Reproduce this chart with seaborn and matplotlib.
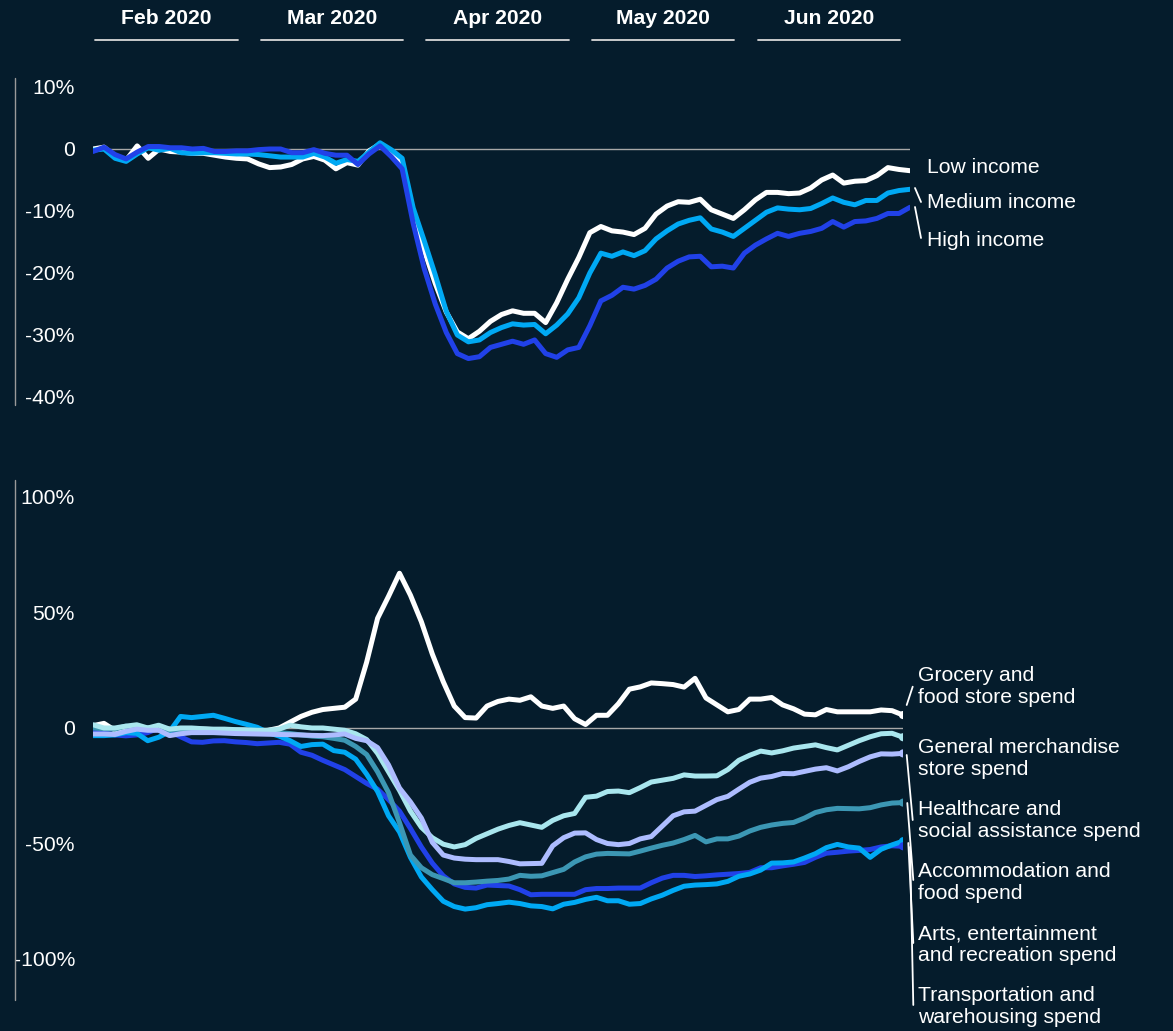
import matplotlib
matplotlib.use("Agg")
import matplotlib.pyplot as plt
import matplotlib.transforms as mtransforms
from matplotlib.lines import Line2D
import numpy as np
import pandas as pd
import seaborn as sns

# ---------------- data ----------------
days = list(range(0, 149, 2))  # day index, 75 samples

low_income = [0, 0.3, -1.2, -1.8, 0.5, -1.5, 0, -0.4, -0.5, -0.7,
              -0.7, -1.0, -1.3, -1.5, -1.6, -2.4, -3.0, -2.9, -2.5, -1.6,
              -1.2, -1.8, -3.2, -2.2, -2.6, -0.3, 0.8, -0.7, -2.5, -10.5,
              -16.3, -21.7, -26.3, -29.5, -30.6, -29.4, -27.8, -26.7, -26.1, -26.5,
              -26.5, -28.0, -24.8, -21.0, -17.5, -13.5, -12.5, -13.2, -13.4, -13.8,
              -12.8, -10.5, -9.2, -8.5, -8.6, -8.1, -9.8, -10.5, -11.2, -9.8,
              -8.2, -7.0, -7.0, -7.2, -7.1, -6.3, -5.0, -4.2, -5.5, -5.2,
              -5.1, -4.3, -3.0, -3.3, -3.5]
medium_income = [-0.2, 0, -1.5, -2.0, -0.8, 0.2, -0.2, 0.1, -0.6, -0.7,
                 -0.6, -0.6, -0.7, -0.8, -0.8, -0.9, -1.1, -1.3, -1.3, -1.3,
                 -0.7, -1.3, -2.3, -1.7, -2.0, -0.5, 1.0, -0.1, -1.5, -9.5,
                 -14.8, -20.3, -26.2, -30.0, -31.1, -30.8, -29.6, -28.8, -28.2, -28.4,
                 -28.3, -29.8, -28.4, -26.6, -24.0, -20.0, -16.8, -17.3, -16.6, -17.2,
                 -16.4, -14.5, -13.2, -12.1, -11.5, -11.1, -12.9, -13.4, -14.1, -12.8,
                 -11.5, -10.2, -9.5, -9.7, -9.8, -9.6, -8.8, -7.9, -8.6, -9.0,
                 -8.3, -8.3, -7.1, -6.7, -6.5]
high_income = [-0.4, 0.3, -0.9, -1.6, -0.5, 0.4, 0.4, 0.2, 0.2, 0,
               0.1, -0.4, -0.4, -0.3, -0.3, -0.1, 0, 0, -0.6, -0.6,
               -0.1, -0.7, -1.0, -1.0, -2.5, -0.8, 0.5, -1.2, -3.2, -12.0,
               -19.3, -25.0, -29.6, -33.0, -33.8, -33.5, -32.0, -31.5, -31.0, -31.5,
               -30.8, -33.0, -33.6, -32.4, -32.0, -28.5, -24.5, -23.6, -22.3, -22.6,
               -22.0, -21.0, -19.2, -18.1, -17.4, -17.3, -19.0, -18.9, -19.2, -16.8,
               -15.5, -14.5, -13.6, -14.1, -13.6, -13.3, -12.8, -11.7, -12.6, -11.7,
               -11.6, -11.2, -10.4, -10.4, -9.4]

grocery = [1, 2, -1, 0, 0, 0, -0.5, -0.5, -0.5, -0.5,
           -0.5, -0.7, -0.8, -1, -1, -1.5, -1, 0, 2.5, 5,
           6.8, 8, 8.5, 9, 12.5, 28.5, 47.5, 57, 67, 57.5,
           46, 32, 20, 9.5, 4.5, 4.3, 9.5, 11.5, 12.5, 12,
           13.5, 9.5, 8.5, 9.5, 4, 1.5, 5.5, 5.5, 10.5, 16.8,
           17.8, 19.5, 19.2, 18.8, 17.7, 21.5, 13, 10, 7, 8,
           12.5, 12.5, 13.2, 10, 8.3, 6, 5.7, 8, 7, 7,
           7, 7, 7.8, 7.5, 5.6]
gen_merch = [1.4, 0, 0, 0.8, 1.4, 0, 1.2, -0.5, 0, 0,
             -0.3, -0.5, -0.5, -0.7, -0.8, -1, -1, -0.5, 1.2, 0.5,
             0, 0, -0.5, -1, -2.5, -5, -11, -19, -27, -36,
             -43, -47.5, -50.3, -51.5, -50.5, -47.8, -45.8, -43.8, -42.2, -41,
             -42, -43, -40, -38, -37, -30, -29.5, -27.5, -27.3, -28,
             -25.8, -23.4, -22.6, -21.8, -20.3, -20.8, -20.8, -20.7, -18, -14,
             -11.8, -10, -10.8, -9.9, -8.7, -8, -7.3, -8.5, -9.5, -7.5,
             -5.5, -3.8, -2.5, -2.3, -4]
healthcare = [-2.6, -2.6, -2.8, -1.5, -0.5, -1, -1, -3.3, -2.5, -2,
              -2, -2, -2.2, -2.4, -2.5, -2.6, -2.7, -2.8, -2.9, -3,
              -3.2, -3.3, -3, -2.6, -4.5, -5.5, -8.5, -16, -26, -32,
              -39, -49.5, -55, -56.3, -56.8, -57, -57, -57, -57.8, -58.8,
              -58.7, -58.6, -51, -47.5, -45.5, -45.4, -48.3, -50, -50.5, -50,
              -48, -47, -42.5, -38, -36.3, -36, -33.5, -31, -29.6, -26.5,
              -23.5, -21.7, -21, -19.7, -19.8, -18.8, -17.8, -17.2, -18.6, -16.8,
              -14.5, -12.5, -11.2, -11.3, -11]
accommodation = [0, -0.3, -0.5, 0.8, 0, 0, 0.5, -1, -0.5, -0.5,
                 -0.8, -0.8, -0.8, -0.8, -1, -1, -1.5, -2, -2.4, -3,
                 -3.5, -3.8, -4.5, -5.3, -8, -11.5, -19, -28, -41, -55,
                 -60.5, -63.5, -65.2, -67, -67, -66.7, -66.3, -66, -65.4, -63.8,
                 -64.2, -64, -62.6, -61.2, -58, -55.8, -54.6, -54.3, -54.4, -54.5,
                 -53.3, -52, -50.8, -49.8, -48.3, -46.5, -49.3, -48, -48, -46.8,
                 -44.6, -43, -42, -41.3, -40.9, -39, -36.6, -35.4, -34.8, -34.9,
                 -35, -34.5, -33.3, -32.5, -32.3]
arts = [-3.3, -3.3, -3, -2, -2.3, -5.5, -4, -1.5, 5, 4.5,
        5, 5.5, 4.2, 2.8, 1.6, 0.3, -2, -3.5, -5.5, -8,
        -7.2, -7, -9.8, -10.5, -13.5, -20, -27.5, -38, -45, -56,
        -64.5, -70, -75, -77.3, -78.4, -77.8, -76.5, -76, -75.4, -76,
        -77, -77.3, -78.3, -76.3, -75.5, -74.2, -73.3, -74.8, -74.8, -76.3,
        -76, -74, -72.4, -70.3, -68.5, -68, -67.8, -67.5, -66.4, -64.2,
        -63.2, -61.5, -58.5, -58.4, -58, -56.3, -54.4, -51.8, -50.4, -51.5,
        -52, -56, -52.5, -50.6, -49]
transport = [-0.5, -2, -3, -3.4, -3, -2, 0, -1.5, -3.8, -6,
             -6.2, -5.6, -5.5, -6, -6.3, -6.8, -6.5, -6.2, -7, -10.5,
             -11.8, -14, -16, -18, -21, -24, -26.5, -31, -36, -43.5,
             -51.5, -58.5, -64, -67.5, -69, -69.3, -68, -68.2, -68.4, -70,
             -72.2, -72, -72, -72, -72, -70, -69.5, -69.5, -69.3, -69.3,
             -69.3, -67, -65, -63.8, -63.8, -64.3, -64, -63.6, -63.3, -63,
             -62.5, -60.5, -60.5, -59.7, -59, -58.2, -56, -54.2, -53.8, -53.3,
             -53, -52.6, -51.5, -51, -51.2]

months = ["Feb 2020", "Mar 2020", "Apr 2020", "May 2020", "Jun 2020"]
month_start = [0, 30, 60, 90, 120]

top_names = ["Low income", "Medium income", "High income"]
top_colors = ["#ffffff", "#00a9f4", "#2141e8"]
top_ticks = [10, 0, -10, -20, -30, -40]
top_ticklabels = ["10%", "0", "-10%", "-20%", "-30%", "-40%"]

bot_names = ["Grocery and\nfood store spend", "General merchandise\nstore spend",
             "Healthcare and\nsocial assistance spend", "Accommodation and\nfood spend",
             "Arts, entertainment\nand recreation spend", "Transportation and\nwarehousing spend"]
bot_colors = ["#ffffff", "#a9e6ee", "#adbcff", "#3c97b4", "#00a9f4", "#2141e8"]
bot_ticks = [100, 50, 0, -50, -100]
bot_ticklabels = ["100%", "50%", "0", "-50%", "-100%"]

# ---------------- style ----------------
BG = "#051c2c"
sns.set_theme(style="dark", rc={"axes.facecolor": BG, "figure.facecolor": BG})
plt.rcParams["font.family"] = ["Liberation Sans", "DejaVu Sans"]

W, H = 1173, 1031
fig = plt.figure(figsize=(W / 100, H / 100), dpi=100, facecolor=BG)

def fx(px):
    return px / W

def fy(py):
    return 1 - py / H

FS = 15.2
LW = 3.6

# top axes: 0 at y=149, 6.2 px per %
ax1 = fig.add_axes([fx(93), fy(409.4), (910 - 93) / W, 334.8 / H])
# bottom axes: 0 at y=728, 2.31 px per %
ax2 = fig.add_axes([fx(93), fy(986.7), (903 - 93) / W, 512.8 / H])

top_series = [low_income, medium_income, high_income]
df_top = pd.DataFrame({
    "day": days * 3,
    "value": sum(top_series, []),
    "series": sum([[n] * len(days) for n in top_names], []),
})
bot_series = [grocery, gen_merch, healthcare, accommodation, arts, transport]
df_bot = pd.DataFrame({
    "day": days * 6,
    "value": sum(bot_series, []),
    "series": sum([[n] * len(days) for n in bot_names], []),
})

for ax in (ax1, ax2):
    ax.set_facecolor("none")
    ax.axhline(0, color="#a8a8a8", lw=1.0, zorder=1)

sns.lineplot(data=df_top, x="day", y="value", hue="series", hue_order=top_names,
             palette=dict(zip(top_names, top_colors)), linewidth=LW, legend=False,
             ax=ax1, zorder=3, solid_capstyle="round", solid_joinstyle="round")

bot_order = [bot_names[0], bot_names[5], bot_names[4], bot_names[3], bot_names[1], bot_names[2]]
sns.lineplot(data=df_bot, x="day", y="value", hue="series", hue_order=bot_order,
             palette=dict(zip(bot_names, bot_colors)), linewidth=LW, legend=False,
             ax=ax2, zorder=3, solid_capstyle="round", solid_joinstyle="round")
# end dots
last = df_bot[df_bot["day"] == days[-1]]
sns.scatterplot(data=last, x="day", y="value", hue="series",
                palette=dict(zip(bot_names, bot_colors)), s=34, legend=False,
                ax=ax2, zorder=4, edgecolor="none")

ax1.set_xlim(0, 148)
ax1.set_ylim(-42, 12)
ax2.set_xlim(0, 148)
ax2.set_ylim(-112, 110)
ax1.set_yticks(top_ticks)
ax1.set_yticklabels(top_ticklabels)
ax2.set_yticks(bot_ticks)
ax2.set_yticklabels(bot_ticklabels)
for ax in (ax1, ax2):
    ax.set_xticks([])
    ax.set_xlabel("")
    ax.set_ylabel("")
    ax.grid(False)
    for s in ax.spines.values():
        s.set_visible(False)
    ax.tick_params(axis="y", length=0, pad=13, labelsize=FS, labelcolor="white")

# month headers
trans = mtransforms.blended_transform_factory(ax1.transData, fig.transFigure)
for m, d0 in zip(months, month_start):
    fig.text(d0 + 13.3, fy(18), m, transform=trans, ha="center", va="center",
             color="white", fontsize=FS, fontweight="bold")
    fig.add_artist(Line2D([d0 + 0.4, d0 + 26.2], [fy(40), fy(40)], transform=trans,
                          color="#d8d8d8", lw=1.3))

# left vertical rules
fig.add_artist(Line2D([fx(15), fx(15)], [fy(78), fy(405)], color="#9a9a9a", lw=1))
fig.add_artist(Line2D([fx(15), fx(15)], [fy(480), fy(1000)], color="#9a9a9a", lw=1))

# top labels
for name, yc in zip(top_names, [168, 203, 240]):
    fig.text(fx(927), fy(yc), name, color="white", fontsize=FS, va="center", ha="left")
for (x0, y0, x1, y1) in [(915, 188, 921, 202), (915, 207, 921, 238)]:
    fig.add_artist(Line2D([fx(x0), fx(x1)], [fy(y0), fy(y1)], color="white", lw=1.3))

# bottom labels
for name, yc in zip(bot_names, [686.5, 758.5, 820.5, 882.5, 944.5, 1006.5]):
    fig.text(fx(918), fy(yc), name, color="white", fontsize=FS, va="center", ha="left",
             linespacing=1.2)
for (x0, y0, x1, y1) in [(906.7, 705, 912.7, 686.7), (906.7, 755, 912.7, 820),
                         (907.3, 803, 913.3, 880), (908.3, 843, 913.3, 943),
                         (910, 847, 913.3, 1005)]:
    fig.add_artist(Line2D([fx(x0), fx(x1)], [fy(y0), fy(y1)], color="white", lw=1.3))

fig.savefig("out.png", dpi=100, facecolor=BG)
